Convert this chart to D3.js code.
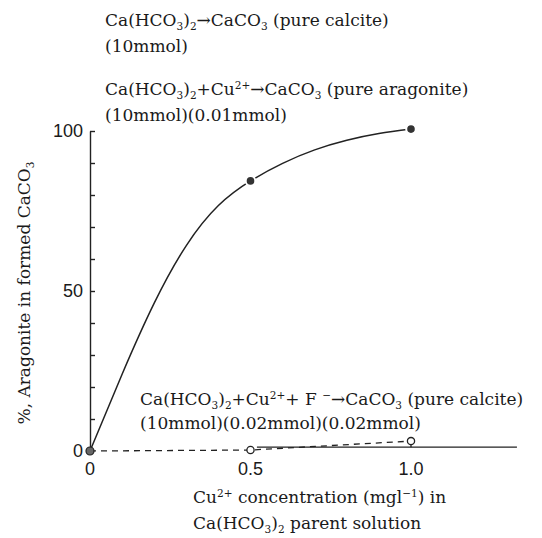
<!DOCTYPE html>
<html lang="en">
<head>
<meta charset="UTF-8">
<title>Aragonite vs Cu2+</title>
<script src="https://cdn.jsdelivr.net/npm/d3@7/dist/d3.min.js"></script>
<style>
  * { margin: 0; padding: 0; }
  body { background: #fff; }
  .serif { font-family: "DejaVu Serif", serif; fill: #1a1a1a; }
  .num { font-family: "Liberation Sans", Arial, sans-serif; fill: #1a1a1a; }
</style>
</head>
<body>
<svg></svg>
<script>
// measured points, Cu2+ series (filled dots)
const cuConc = [0, 0.5, 1.0]
const aragonitePct = [0, 84.4, 100.6]
// hand-drawn fit curve
const fitConc = [0, 0.1, 0.2, 0.3, 0.4, 0.5, 0.6, 0.7, 0.8, 0.9, 1.0]
const fitPct = [0, 24, 46.2, 64.2, 76.7, 84.4, 89.9, 94.1, 97.1, 99.2, 100.6]
// Cu2+ + F- series (open circles)
const fConc = [0.5, 1.0]
const fPct = [0.3, 3.1]
const calciteLineConc = [0.52, 1.33]
const calciteLinePct = [1.2, 1.2]
// axes
const xTicks = [0, 0.5, 1.0]
const xTickLabels = ['0', '0.5', '1.0']
const yTicks = [0, 50, 100]
const yMinor = [10, 20, 30, 40, 50, 60, 70, 80, 90, 100]

const svg = d3.select('svg').attr('width', 542).attr('height', 538)

const x = d3.scaleLinear().domain([0, 1]).range([90, 411])
const y = d3.scaleLinear().domain([0, 100]).range([451, 131])

// y axis, ticks pointing inward
svg.append('g').attr('transform', `translate(${x(0)},0)`)
    .call(d3.axisRight(y).tickValues(yMinor).tickSize(5).tickSizeOuter(0).tickFormat(''))
    .call(g => g.selectAll('path,line').attr('stroke', '#222').attr('stroke-width', 1.4))

svg.append('g').selectAll('text').data(yTicks).join('text')
    .attr('class', 'num').attr('x', 83).attr('y', d => y(d)).attr('dy', '0.36em')
    .attr('text-anchor', 'end').attr('font-size', 18).text(d => d)

svg.append('g').selectAll('text').data(xTicks).join('text')
    .attr('class', 'num').attr('x', d => x(d)).attr('y', 475)
    .attr('text-anchor', 'middle').attr('font-size', 18).text((d, i) => xTickLabels[i])

// fit curve
const line = d3.line().x(d => x(d[0])).y(d => y(d[1])).curve(d3.curveNatural)
svg.append('path').datum(d3.zip(fitConc, fitPct)).attr('d', line)
    .attr('fill', 'none').attr('stroke', '#222').attr('stroke-width', 1.5)

// solid calcite line
svg.append('path').datum(d3.zip(calciteLineConc, calciteLinePct)).attr('d', d3.line().x(d => x(d[0])).y(d => y(d[1])))
    .attr('fill', 'none').attr('stroke', '#222').attr('stroke-width', 1.3)

// dashed connection of F- series from origin
svg.append('path').datum([[0, 0]].concat(d3.zip(fConc, fPct)))
    .attr('d', d3.line().x(d => x(d[0])).y(d => y(d[1])))
    .attr('fill', 'none').attr('stroke', '#222').attr('stroke-width', 1.3).attr('stroke-dasharray', '6,5')

// stem under the 1.0 open circle
svg.append('line').attr('x1', x(fConc[1])).attr('x2', x(fConc[1]))
    .attr('y1', y(fPct[1])).attr('y2', y(calciteLinePct[1]))
    .attr('stroke', '#222').attr('stroke-width', 1.3)

// open circles
svg.append('g').selectAll('circle').data(d3.zip(fConc, fPct)).join('circle')
    .attr('cx', d => x(d[0])).attr('cy', d => y(d[1])).attr('r', 3.6)
    .attr('fill', '#fff').attr('stroke', '#222').attr('stroke-width', 1.3)

// filled dots
svg.append('g').selectAll('circle').data(d3.zip(cuConc, aragonitePct)).join('circle')
    .attr('cx', d => x(d[0])).attr('cy', d => y(d[1])).attr('r', (d, i) => i == 0 ? 4 : 4.8)
    .attr('fill', (d, i) => i == 0 ? '#666' : '#333')
    .attr('stroke', (d, i) => i == 0 ? '#222' : '#fff').attr('stroke-width', (d, i) => i == 0 ? 1.2 : 2)

// text with sub/superscripts: parts [text, 'n'|'sub'|'sup']
function rich(sel, parts, size) {
    let shift = 0
    parts.forEach(p => {
        const target = p[1] == 'sub' ? size * 0.22 : p[1] == 'sup' ? -size * 0.38 : 0
        const t = sel.append('tspan').text(p[0]).attr('dy', target - shift)
        if (p[1] != 'n') t.attr('font-size', size * 0.62)
        shift = target
    })
    return sel
}

const fs = 17
const notes = [
    { x: 105, y: 26, parts: [['Ca(HCO', 'n'], ['3', 'sub'], [')', 'n'], ['2', 'sub'], ['\u2192CaCO', 'n'], ['3', 'sub'], [' (pure calcite)', 'n']] },
    { x: 105, y: 52, parts: [['(10mmol)', 'n']] },
    { x: 105, y: 95, parts: [['Ca(HCO', 'n'], ['3', 'sub'], [')', 'n'], ['2', 'sub'], ['+Cu', 'n'], ['2+', 'sup'], ['\u2192CaCO', 'n'], ['3', 'sub'], [' (pure aragonite)', 'n']] },
    { x: 105, y: 121, parts: [['(10mmol)(0.01mmol)', 'n']] },
    { x: 140, y: 405, parts: [['Ca(HCO', 'n'], ['3', 'sub'], [')', 'n'], ['2', 'sub'], ['+Cu', 'n'], ['2+', 'sup'], ['+ F ', 'n'], ['\u2212', 'sup'], ['\u2192CaCO', 'n'], ['3', 'sub'], [' (pure calcite)', 'n']] },
    { x: 140, y: 429, parts: [['(10mmol)(0.02mmol)(0.02mmol)', 'n']] },
    { x: 193, y: 503, parts: [['Cu', 'n'], ['2+', 'sup'], [' concentration (mgl', 'n'], ['\u22121', 'sup'], [') in', 'n']] },
    { x: 193, y: 529, parts: [['Ca(HCO', 'n'], ['3', 'sub'], [')', 'n'], ['2', 'sub'], [' parent solution', 'n']] }
]
notes.forEach(n => {
    const t = svg.append('text').attr('class', 'serif').attr('x', n.x).attr('y', n.y).attr('font-size', fs)
    rich(t, n.parts, fs)
})

// y axis title
const yt = svg.append('text').attr('class', 'serif').attr('font-size', fs)
    .attr('transform', 'translate(30,293) rotate(-90)').attr('text-anchor', 'middle')
rich(yt, [['%, Aragonite in formed CaCO', 'n'], ['3', 'sub']], fs)
</script>
</body>
</html>
